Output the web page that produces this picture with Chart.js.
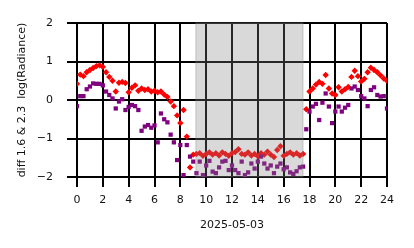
<!DOCTYPE html>
<html>
<head>
<meta charset="utf-8">
<script src="https://cdn.jsdelivr.net/npm/chart.js@4/dist/chart.umd.min.js"></script>
<style>
    html, body { margin: 0; padding: 0; background: #fff; }
    #wrap { width: 414px; height: 248px; }
</style>
</head>
<body>
<div id="wrap"><canvas id="diffChart" width="414" height="248"></canvas></div>
<script>
// hours of the day (UTC) for each sample
const hours = [
    0, 0.25, 0.5, 0.75, 1, 1.25, 1.5, 1.75, 2, 2.25, 2.5, 2.75,
    3, 3.25, 3.5, 3.75, 4, 4.25, 4.5, 4.75, 5, 5.25, 5.5, 5.75,
    6, 6.25, 6.5, 6.75, 7, 7.25, 7.5, 7.75, 8, 8.25, 8.5, 8.75,
    9, 9.25, 9.5, 9.75, 10, 10.25, 10.5, 10.75, 11, 11.25, 11.5, 11.75,
    12, 12.25, 12.5, 12.75, 13, 13.25, 13.5, 13.75, 14, 14.25, 14.5, 14.75,
    15, 15.25, 15.5, 15.75, 16, 16.25, 16.5, 16.75, 17, 17.25, 17.5, 17.75,
    18, 18.25, 18.5, 18.75, 19, 19.25, 19.5, 19.75, 20, 20.25, 20.5, 20.75,
    21, 21.25, 21.5, 21.75, 22, 22.25, 22.5, 22.75, 23, 23.25, 23.5, 23.75, 24
];

// diff log(Radiance), first channel pair (red diamonds)
const redValues = [
    0.42, 0.66, 0.62, 0.72, 0.78, 0.83, 0.88, 0.90, 0.86, 0.72, 0.60, 0.50,
    0.22, 0.45, 0.47, 0.44, 0.20, 0.32, 0.38, 0.24, 0.30, 0.26, 0.28, 0.22,
    0.24, 0.20, 0.22, 0.14, 0.08, -0.04, -0.16, -0.40, -0.60, -0.26, -0.95, -1.75,
    -1.42, -1.40, -1.38, -1.45, -1.40, -1.36, -1.42, -1.38, -1.44, -1.36, -1.40, -1.45,
    -1.38, -1.35, -1.28, -1.40, -1.42, -1.36, -1.44, -1.40, -1.46, -1.38, -1.42, -1.34,
    -1.42, -1.48, -1.30, -1.20, -1.45, -1.40, -1.36, -1.42, -1.38, -1.44, -1.40, -0.24,
    0.22, 0.30, 0.40, 0.47, 0.42, 0.65, 0.30, 0.17, 0.13, 0.33, 0.22, 0.28,
    0.34, 0.60, 0.76, 0.62, 0.48, 0.55, 0.72, 0.84, 0.78, 0.72, 0.64, 0.56, 0.50
];

// second channel pair (purple squares)
const purpleValues = [
    -0.16, 0.10, 0.10, 0.28, 0.35, 0.43, 0.42, 0.42, 0.38, 0.22, 0.13, 0.04,
    -0.22, -0.04, 0.02, -0.26, -0.18, -0.13, -0.16, -0.26, -0.80, -0.69, -0.65, -0.72,
    -0.66, -1.10, -0.35, -0.50, -0.58, -0.90, -1.10, -1.56, -1.17, -1.95, -1.17, -1.47,
    -1.60, -1.90, -1.60, -1.95, -1.70, -1.58, -1.86, -1.90, -1.75, -1.60, -1.58, -1.82,
    -1.70, -1.82, -1.90, -1.60, -1.95, -1.88, -1.65, -1.78, -1.60, -1.47, -1.65, -1.78,
    -1.70, -1.90, -1.73, -1.65, -1.80, -1.75, -1.88, -1.92, -1.85, -1.75, -1.73, -0.76,
    -0.30, -0.17, -0.10, -0.52, -0.07, 0.17, -0.17, -0.60, -0.30, -0.17, -0.30, -0.20,
    -0.13, 0.30, 0.35, 0.26, 0.10, 0.04, -0.16, 0.26, 0.33, 0.13, 0.09, 0.10, -0.22
];

const nightStart = 9.2;
const nightEnd = 17.5;

const xTicks = [0, 2, 4, 6, 8, 10, 12, 14, 16, 18, 20, 22, 24];
const yTicks = [-2, -1, 0, 1, 2];

function toPoints(values) {
    return hours.map(function (h, i) {
        return { x: h, y: values[i] };
    });
}

// grey band for the night period, painted over the points like axvspan
const nightBand = {
    id: "nightBand",
    afterDatasetsDraw: function (chart) {
        const ctx = chart.ctx;
        const area = chart.chartArea;
        const x0 = chart.scales.x.getPixelForValue(nightStart);
        const x1 = chart.scales.x.getPixelForValue(nightEnd);
        ctx.save();
        ctx.fillStyle = "rgba(128, 128, 128, 0.3)";
        ctx.fillRect(x0, area.top, x1 - x0, area.bottom - area.top);
        ctx.strokeStyle = "rgba(128, 128, 128, 0.3)";
        ctx.lineWidth = 1.2;
        ctx.strokeRect(x0, area.top, x1 - x0, area.bottom - area.top);
        ctx.restore();
    }
};

const fontFamily = "'DejaVu Sans', sans-serif";

new Chart(document.getElementById("diffChart"), {
    type: "scatter",
    data: {
        datasets: [
            {
                label: "purple",
                data: toPoints(purpleValues),
                pointStyle: "rect",
                pointRadius: 3,
                borderWidth: 0,
                backgroundColor: "#800080"
            },
            {
                label: "red",
                data: toPoints(redValues),
                pointStyle: "rectRot",
                pointRadius: 3.2,
                borderWidth: 0,
                backgroundColor: "#ff0000"
            }
        ]
    },
    options: {
        responsive: false,
        animation: false,
        layout: {
            padding: { top: 23, right: 27, bottom: 0, left: 0 }
        },
        plugins: {
            legend: { display: false },
            tooltip: { enabled: false }
        },
        scales: {
            x: {
                type: "linear",
                min: 0,
                max: 24,
                afterBuildTicks: function (scale) {
                    scale.ticks = xTicks.map(function (v) { return { value: v }; });
                },
                afterFit: function (scale) { scale.height = 71; },
                grid: { color: "#000", lineWidth: 2, tickLength: 10 },
                border: { display: false },
                ticks: {
                    color: "#111",
                    padding: 7,
                    maxRotation: 0,
                    font: { family: fontFamily, size: 11 }
                },
                title: {
                    display: true,
                    text: "2025-05-03",
                    color: "#111",
                    font: { family: fontFamily, size: 11 },
                    padding: { top: 0, bottom: 16 }
                }
            },
            y: {
                min: -2,
                max: 2,
                afterBuildTicks: function (scale) {
                    scale.ticks = yTicks.map(function (v) { return { value: v }; });
                },
                afterFit: function (scale) { scale.width = 77; },
                grid: { color: "#000", lineWidth: 2, tickLength: 10 },
                border: { display: false },
                ticks: {
                    color: "#111",
                    padding: 14,
                    font: { family: fontFamily, size: 11 },
                    callback: function (value) {
                        return value < 0 ? "\u2212" + Math.abs(value) : String(value);
                    }
                },
                title: {
                    display: true,
                    text: "diff 1.6 & 2.3  log(Radiance)",
                    color: "#111",
                    font: { family: fontFamily, size: 11 },
                    padding: { top: 16, bottom: 0 }
                }
            }
        }
    },
    plugins: [nightBand]
});
</script>
</body>
</html>
